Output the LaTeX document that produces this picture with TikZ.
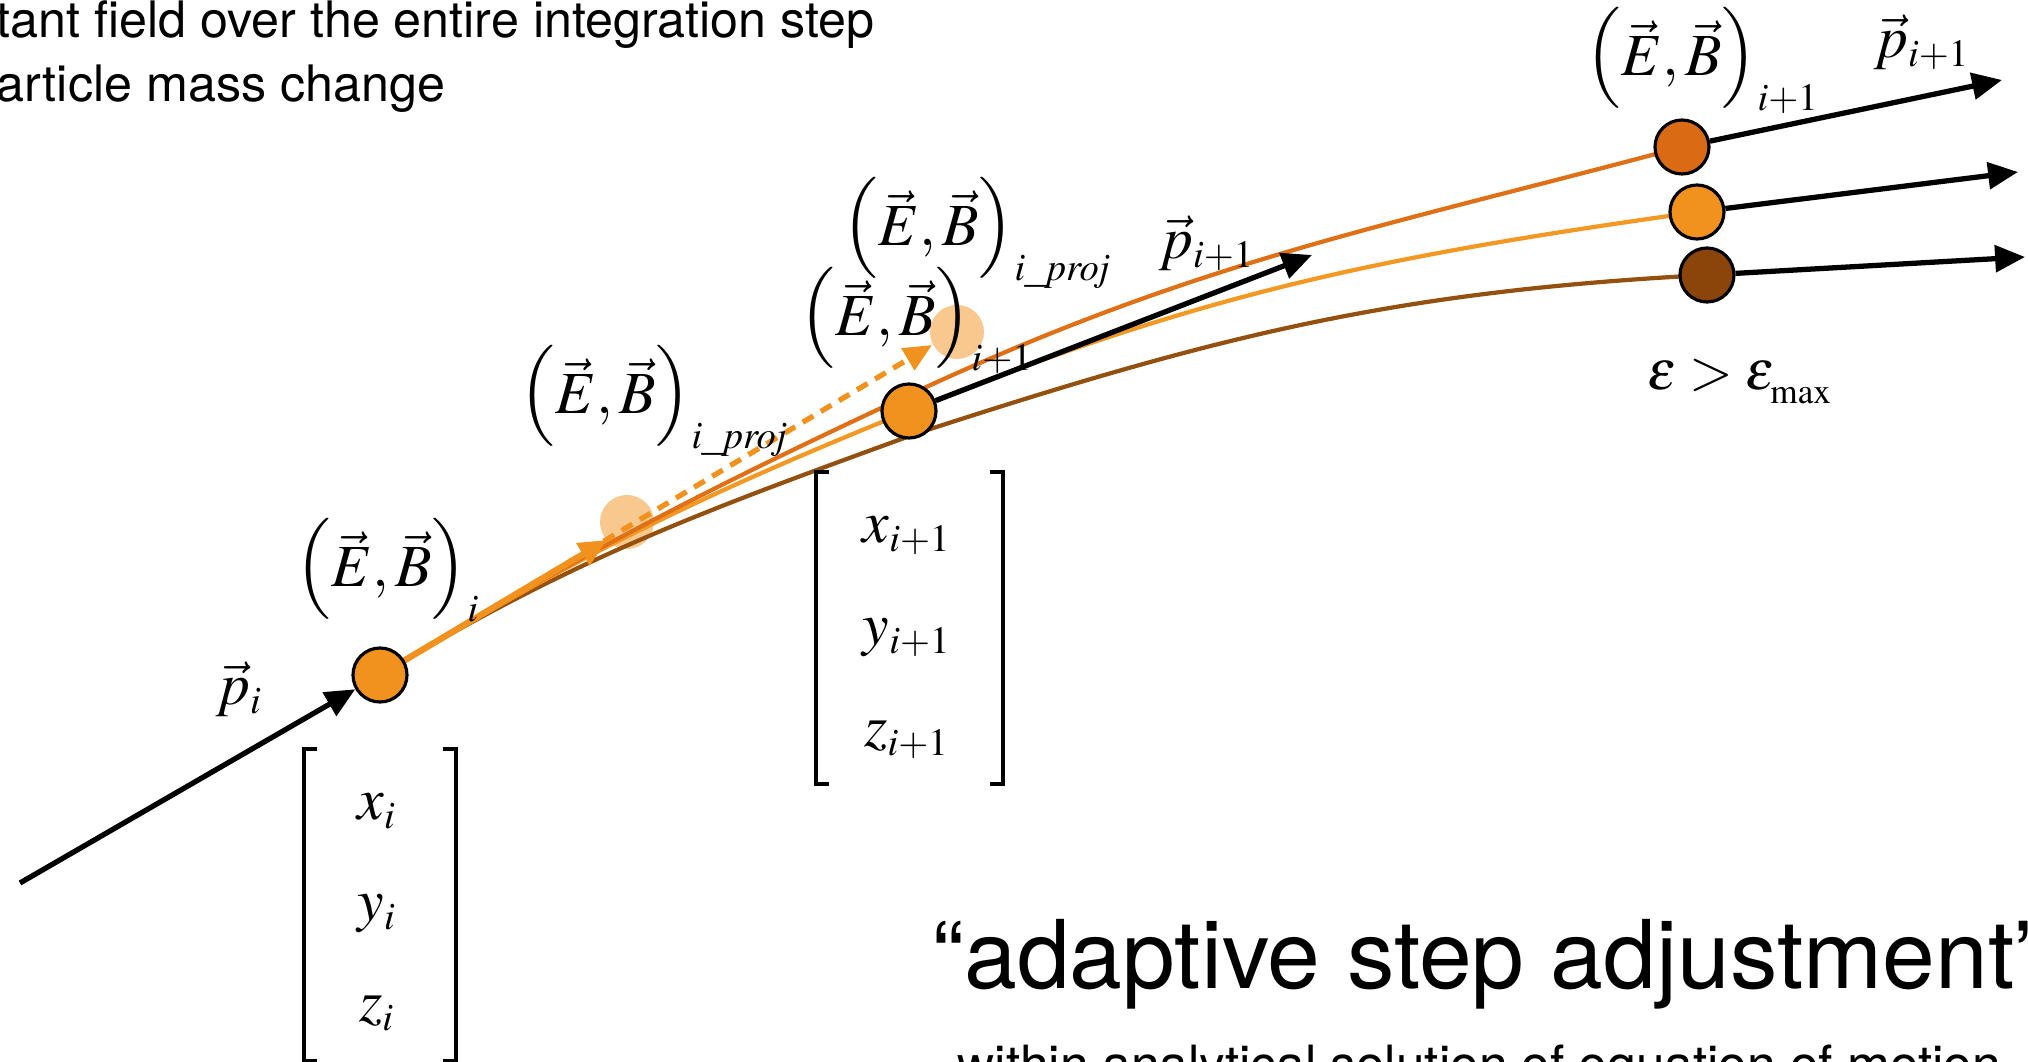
\documentclass[tikz,border=0pt]{standalone}
\usepackage{amsmath}
\usepackage{graphicx}
\usepackage{mathptmx}
\usepackage[no-math]{fontspec}
\setmainfont{TeX Gyre Heros}
\usepackage{xcolor}
\usepackage{tikz}
\usetikzlibrary{arrows.meta,positioning,calc,backgrounds}

\DeclareMathSizes{17}{17}{11}{8}
\DeclareMathSizes{16}{16}{10}{7.5}

\definecolor{ptorange}{RGB}{241,146,30}
\definecolor{darkorange}{RGB}{219,106,20}
\definecolor{rustbrown}{RGB}{139,69,10}
\definecolor{ghostorange}{RGB}{248,200,143}
\definecolor{darkcurve}{RGB}{224,112,22}
\definecolor{lightcurve}{RGB}{243,152,35}
\definecolor{rustcurve}{RGB}{148,80,15}

\newcommand{\tallopen}{\mathopen{\raisebox{1.1pt}{\scalebox{1}[0.94]{$\Bigl($}}}}
\newcommand{\tallclose}{\mathclose{\raisebox{1.1pt}{\scalebox{1}[0.94]{$\Bigr)$}}}}
\newcommand{\fieldpair}{\tallopen\vec{E},\vec{B}\tallclose}

\begin{document}
\begin{tikzpicture}[
    every node/.style={inner sep=0pt},
    ptnode/.style={circle, draw, line width=0.9pt, minimum size=0.54cm},
    ghost/.style={circle, fill=ghostorange, minimum size=0.54cm},
    mlabel/.style={anchor=base west, font=\fontsize{17}{21}\selectfont},
    entry/.style={anchor=base, font=\fontsize{17}{20}\selectfont},
    vecbox/.style={minimum height=3.1cm},
    bracket/.style={line width=1.1pt},
    curve/.style={line width=1.2pt},
    mom/.style={line width=1.5pt, -{Triangle[length=8.5pt,width=7.5pt]}},
    note/.style={anchor=base west, font=\fontsize{14.3}{17}\selectfont}
]
\useasboundingbox (0,0) rectangle (20.28,10.62);
\clip (0,0) rectangle (20.28,10.62);

\node[note] (top1) at (-0.04,10.24) {tant field over the entire integration step};
\node[note] (top2) at (-0.04,9.60) {article mass change};

\node[ptnode, fill=ptorange] (ni) at (3.80,3.87) {};
\node[ptnode, fill=ptorange] (nm) at (9.09,6.51) {};
\node[ptnode, fill=darkorange] (r1) at (16.82,9.15) {};
\node[ptnode, fill=ptorange] (r2) at (16.97,8.50) {};
\node[ptnode, fill=rustbrown] (r3) at (17.07,7.87) {};

\coordinate (p0) at (0.20,1.79);
\coordinate (dk) at (9.09,6.67);
\coordinate (br) at (9.18,6.29);
\coordinate (t1) at (6.07,5.22);
\coordinate (t2) at (9.32,7.17);
\coordinate (pm) at (13.12,8.07);
\coordinate (q1) at (20.02,9.82);
\coordinate (q2) at (20.18,8.90);
\coordinate (q3) at (20.25,8.05);

\begin{scope}[on background layer]
\node[ghost] (g1) at (6.27,5.40) {};
\node[ghost] (g2) at (9.57,7.30) {};
\draw[curve, rustcurve] (ni.center) to[out=31,in=200] (br) to[out=18,in=183] (r3.center);
\draw[curve, lightcurve] (ni.center) to[out=31,in=202] (nm.center) to[out=22,in=188] (r2.center);
\draw[curve, darkcurve] (ni.center) to[out=31,in=205] (dk) to[out=25,in=195] (r1.center);
\draw[line width=1.5pt, ptorange, dash pattern=on 3.5pt off 2.5pt, -{Triangle[length=8pt,width=7pt]}] (ni) -- (t2);
\draw[line width=1.8pt, ptorange, -{Triangle[length=8pt,width=7pt]}] (ni) -- (t1);
\end{scope}

\draw[mom] (p0) -- (ni);
\draw[mom] (nm) -- (pm);
\draw[mom] (r1) -- (q1);
\draw[mom] (r2) -- (q2);
\draw[mom] (r3) -- (q3);

\node[mlabel] (lpi) at (2.15,3.57) {$\vec{p}_i$};
\node[mlabel] (lebi) at (2.95,4.75) {$\fieldpair_i$};
\node[mlabel] (lebp1) at (5.19,6.48) {$\fieldpair_{i\_\mathit{proj}}$};
\node[mlabel] (lebn) at (7.99,7.26) {$\fieldpair_{i+1}$};
\node[mlabel] (lebp2) at (8.42,8.16) {$\fieldpair_{i\_\mathit{proj}}$};
\node[mlabel] (lpm) at (11.58,8.03) {$\vec{p}_{i+1}$};
\node[mlabel] (lebt) at (15.85,9.86) {$\fieldpair_{i+1}$};
\node[mlabel] (lpt) at (18.73,10.04) {$\vec{p}_{i+1}$};
\node[mlabel, font=\fontsize{16}{19}\selectfont] (leps) at (16.47,6.72) {$\varepsilon > \varepsilon^{}_{\mathrm{max}}$};

\node[vecbox, minimum width=1.5cm] (vi) at (3.80,1.57) {};
\node[entry] (xi) at (3.77,2.42) {$x_i$};
\node[entry] (yi) at (3.77,1.41) {$y_i$};
\node[entry] (zi) at (3.77,0.40) {$z_i$};
\draw[bracket] ([xshift=0.13cm]vi.north west) -| (vi.south west) -- ++(0.13,0);
\draw[bracket] ([xshift=-0.13cm]vi.north east) -| (vi.south east) -- ++(-0.13,0);

\node[vecbox, minimum width=1.85cm] (vm) at (9.095,4.34) {};
\node[entry] (xm) at (9.07,5.19) {$x_{i+1}$};
\node[entry] (ym) at (9.07,4.17) {$y_{i+1}$};
\node[entry] (zm) at (9.07,3.15) {$z_{i+1}$};
\draw[bracket] ([xshift=0.13cm]vm.north west) -| (vm.south west) -- ++(0.13,0);
\draw[bracket] ([xshift=-0.13cm]vm.north east) -| (vm.south east) -- ++(-0.13,0);

\node[anchor=base west, font=\fontsize{27}{32}\selectfont] (title) at (9.32,0.73) {“adaptive step adjustment”};
\node[anchor=base west, font=\fontsize{14.6}{17}\selectfont] (sub) at (9.57,-0.21) {within analytical solution of equation of motion};
\end{tikzpicture}
\end{document}
